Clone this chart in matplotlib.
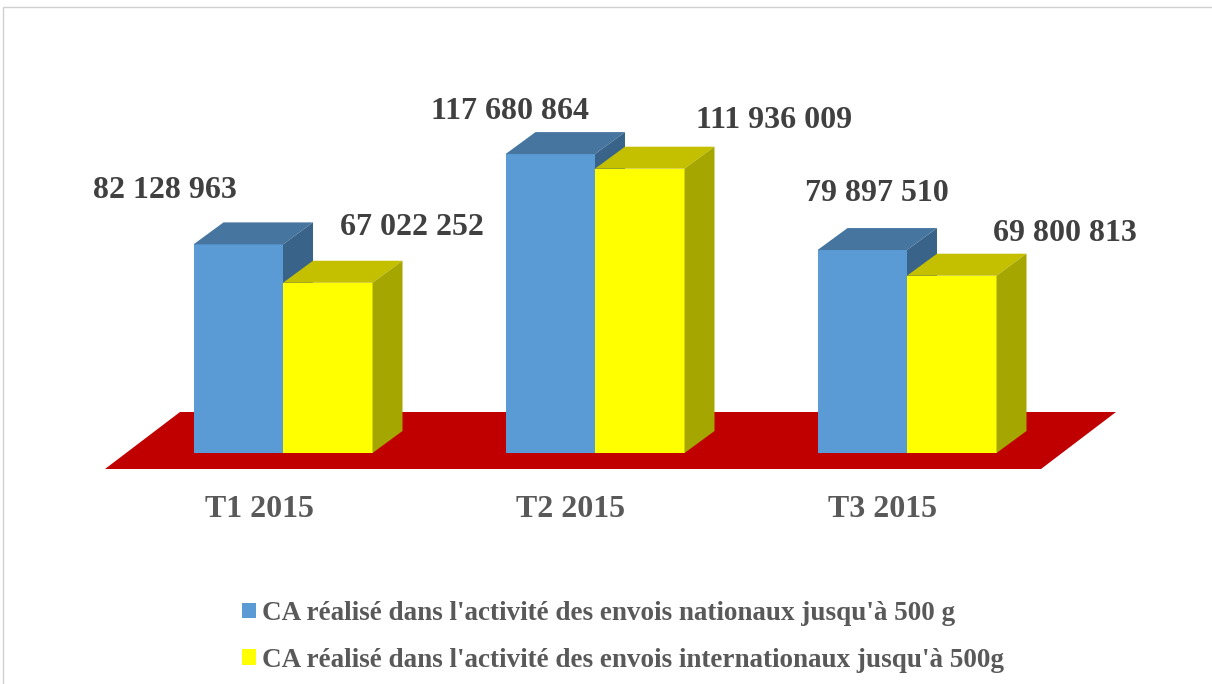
import matplotlib
matplotlib.use("Agg")
import matplotlib.pyplot as plt
from matplotlib.patches import Polygon, Rectangle, Patch

# ── data ────────────────────────────────────────────────────────────────
categories = ["T1 2015", "T2 2015", "T3 2015"]
nationaux = [82128963, 117680864, 79897510]
internationaux = [67022252, 111936009, 69800813]
series_names = [
    "CA réalisé dans l'activité des envois nationaux jusqu'à 500 g",
    "CA réalisé dans l'activité des envois internationaux jusqu'à 500g",
]

# ── look ────────────────────────────────────────────────────────────────
W, H, DPI = 1212, 684, 100
FONT = "Liberation Serif"
BLUE = ("#5B9BD5", "#4676A0", "#3A6389")      # front, top, side
YELLOW = ("#FFFF00", "#C4C000", "#A6A600")
FLOOR = "#C00000"

PX_X = 312.0           # pixels per category
PX_Y = 2.54e-6         # pixels per unit of value
X0_PX, Y0_PX = 283.0, 453.0
BAR_W = 89.5 / PX_X
DX = 30 / PX_X         # depth offsets
DY = 22 / PX_Y

# label offsets (pixels, from front-top centre of bar to text baseline)
label_off = [[(-73, 46), (84, 48)],
             [(-40, 35), (134, 41)],
             [(15, 49), (113, 35)]]

fig = plt.figure(figsize=(W / DPI, H / DPI), dpi=DPI)
ax = fig.add_axes([0, 0, 1, 1])
ax.set_xlim(-X0_PX / PX_X, (W - X0_PX) / PX_X)
ax.set_ylim(-(H - Y0_PX) / PX_Y, Y0_PX / PX_Y)
ax.axis("off")

# chart frame (light grey, runs off right/bottom edge)
fig.patches.append(Rectangle((3 / W, -0.05), 1.2, 1 - 7 / H + 0.05,
                             transform=fig.transFigure, facecolor="none",
                             edgecolor="#D0D0D0", linewidth=1.0))

# red floor
fl, fr = -0.5705, 2.4295
f_front, f_back = -16 / PX_Y, 41 / PX_Y
fdx = 75 / PX_X
ax.add_patch(Polygon([(fl, f_front), (fr, f_front),
                      (fr + fdx, f_back), (fl + fdx, f_back)],
                     closed=True, facecolor=FLOOR, edgecolor="none", zorder=1))


def bar3d(x, h, colors):
    front, top, side = colors
    ax.add_patch(Polygon([(x, 0), (x + BAR_W, 0), (x + BAR_W, h), (x, h)],
                         facecolor=front, edgecolor="none", zorder=2))
    ax.add_patch(Polygon([(x, h), (x + BAR_W, h), (x + BAR_W + DX, h + DY),
                          (x + DX, h + DY)],
                         facecolor=top, edgecolor="none", zorder=2))
    ax.add_patch(Polygon([(x + BAR_W, 0), (x + BAR_W + DX, DY),
                          (x + BAR_W + DX, h + DY), (x + BAR_W, h)],
                         facecolor=side, edgecolor="none", zorder=2))


for i, cat in enumerate(categories):
    for j, (vals, cols) in enumerate([(nationaux, BLUE), (internationaux, YELLOW)]):
        x = i - BAR_W + j * BAR_W
        v = vals[i]
        bar3d(x, v, cols)
        txt = f"{v:,}".replace(",", " ")
        ax.annotate(txt, (x + BAR_W / 2, v), xytext=label_off[i][j],
                    textcoords="offset pixels", ha="center", va="baseline",
                    fontsize=23, fontweight="bold", family=FONT,
                    color="#404040", zorder=5)
    ax.annotate(cat, (i, 0), xytext=(-24, -64), textcoords="offset pixels",
                ha="center", va="baseline", fontsize=23, fontweight="bold",
                family=FONT, color="#595959")

handles = [Patch(facecolor=BLUE[0], edgecolor="none"),
           Patch(facecolor=YELLOW[0], edgecolor="none")]
fig.legend(handles, series_names, loc="upper left",
           bbox_to_anchor=(242 / W, 1 - 601 / H), frameon=False,
           prop={"family": FONT, "weight": "bold", "size": 19.5},
           labelcolor="#595959", handlelength=0.52, handleheight=0.52,
           handletextpad=0.22, labelspacing=0.8, borderpad=0, borderaxespad=0)

fig.savefig("out.png", dpi=DPI)
